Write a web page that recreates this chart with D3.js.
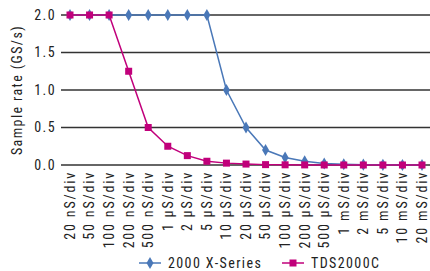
<!DOCTYPE html>
<html>
<head>
<meta charset="utf-8">
<script src="https://cdn.jsdelivr.net/npm/d3@7"></script>
<style>
  body { margin: 0; background: #fff; }
  svg text { font-family: "Liberation Sans Narrow", "Roboto Condensed", "DejaVu Sans Condensed", sans-serif; fill: #222; letter-spacing: 1.4px; }
</style>
</head>
<body>
<svg width="430" height="271"></svg>
<script>
// time base settings along the x axis
var categories = ["20 nS/div", "50 nS/div", "100 nS/div", "200 nS/div", "500 nS/div",
  "1 µS/div", "2 µS/div", "5 µS/div", "10 µS/div", "20 µS/div", "50 µS/div",
  "100 µS/div", "200 µS/div", "500 µS/div", "1 mS/div", "2 mS/div", "5 mS/div",
  "10 mS/div", "20 mS/div"];

// sample rate in GS/s
var x2000 = [2, 2, 2, 2, 2, 2, 2, 2, 1.0, 0.5, 0.2, 0.1, 0.05, 0.02, 0.01, 0.005, 0.002, 0.001, 0.0005];
var tds2000c = [2, 2, 2, 1.25, 0.5, 0.25, 0.125, 0.05, 0.025, 0.0125, 0.005, 0.0025, 0.00125, 0.0005, 0.00025, 0.000125, 0.00005, 0.000025, 0.0000125];

var yTicks = [0, 0.5, 1.0, 1.5, 2.0];

var series = [
  { name: "2000 X-Series", values: x2000, color: "#4a78b8", marker: "diamond" },
  { name: "TDS2000C", values: tds2000c, color: "#c1007b", marker: "square" }
];

var svg = d3.select("svg");
var plotTop = 15, plotBottom = 165;

var x = d3.scalePoint().domain(categories).range([70, 422]);
var y = d3.scaleLinear().domain([0, 2]).range([plotBottom, plotTop]);

// gridlines
svg.append("g").selectAll("line")
  .data(yTicks)
  .enter().append("line")
    .attr("x1", 61).attr("x2", 430)
    .attr("y1", function(d) { return y(d); })
    .attr("y2", function(d) { return y(d); })
    .attr("stroke", "#333")
    .attr("stroke-width", 1.5);

// y tick labels
svg.append("g").selectAll("text")
  .data(yTicks)
  .enter().append("text")
    .attr("x", 56)
    .attr("y", function(d) { return y(d); })
    .attr("dy", "0.35em")
    .attr("text-anchor", "end")
    .style("font-size", "14px")
    .text(function(d) { return d3.format(".1f")(d); });

// y axis title
svg.append("text")
  .attr("transform", "translate(22," + ((plotTop + plotBottom) / 2) + ") rotate(-90)")
  .attr("text-anchor", "middle")
  .style("font-size", "14px")
  .text("Sample rate (GS/s)");

// x tick labels
svg.append("g").selectAll("text")
  .data(categories)
  .enter().append("text")
    .attr("transform", function(d) { return "translate(" + x(d) + ",171) rotate(-90)"; })
    .attr("dy", "0.35em")
    .attr("text-anchor", "end")
    .style("font-size", "14px")
    .style("letter-spacing", "1.8px")
    .text(function(d) { return d; });

var line = d3.line()
  .x(function(d, i) { return x(categories[i]); })
  .y(function(d) { return y(d); });

var diamond = d3.symbol().type(d3.symbolDiamond).size(42);

function drawMarker(g, s) {
  if (s.marker === "diamond") {
    g.append("path").attr("d", diamond).attr("fill", s.color);
  } else {
    g.append("rect").attr("x", -3.5).attr("y", -3.5).attr("width", 7).attr("height", 7).attr("fill", s.color);
  }
}

series.forEach(function(s) {
  svg.append("path")
    .datum(s.values)
    .attr("d", line)
    .attr("fill", "none")
    .attr("stroke", s.color)
    .attr("stroke-width", 1.5);

  svg.append("g").selectAll("g")
    .data(s.values)
    .enter().append("g")
      .attr("transform", function(d, i) { return "translate(" + x(categories[i]) + "," + y(d) + ")"; })
      .each(function() { drawMarker(d3.select(this), s); });
});

// legend
var legendX = [139, 282];
series.forEach(function(s, i) {
  var g = svg.append("g").attr("transform", "translate(" + legendX[i] + ",263)");
  g.append("line").attr("x1", 0).attr("x2", 22).attr("stroke", s.color).attr("stroke-width", 1.5);
  drawMarker(g.append("g").attr("transform", "translate(11,0)"), s);
  g.append("text")
    .attr("x", 29)
    .attr("dy", "0.35em")
    .style("font-size", "14px")
    .text(s.name);
});
</script>
</body>
</html>
